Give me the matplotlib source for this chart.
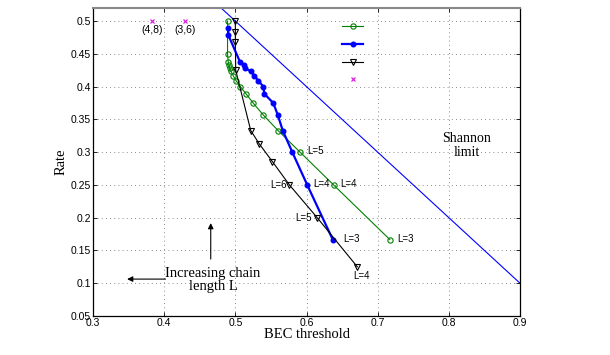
import numpy as np
import matplotlib
matplotlib.use("Agg")
import matplotlib.pyplot as plt

# -------------------------------------------------
# data
# -------------------------------------------------
green_eps = [0.489, 0.489, 0.490, 0.491, 0.492, 0.494, 0.497, 0.501, 0.507,
             0.515, 0.525, 0.539, 0.560, 0.591, 0.638, 0.717]
green_rate = [0.500, 0.450, 0.4375, 0.433, 0.4286, 0.4231, 0.4167, 0.409, 0.400,
              0.389, 0.375, 0.357, 0.333, 0.300, 0.250, 0.1667]

blue_eps = [0.490, 0.490, 0.5066, 0.5126, 0.5136, 0.5216, 0.5267, 0.5323, 0.5393,
            0.5407, 0.5533, 0.5595, 0.5666, 0.580, 0.601, 0.6368]
blue_rate = [0.490, 0.479, 0.4375, 0.433, 0.4286, 0.4231, 0.4167, 0.409, 0.400,
             0.389, 0.375, 0.357, 0.333, 0.300, 0.250, 0.1667]

black_eps = [0.500, 0.500, 0.500, 0.5005, 0.5216, 0.5337, 0.552, 0.576, 0.615, 0.6714]
black_rate = [0.500, 0.484, 0.4685, 0.425, 0.333, 0.3125, 0.2857, 0.250, 0.200, 0.125]

bp_eps = [0.3834, 0.4294]
bp_rate = [0.5, 0.5]
bp_labels = ["(4,8)", "(3,6)"]

shannon_eps = [0.40, 0.90]
shannon_rate = [0.60, 0.10]

# (point index, label)
green_L = [(13, "L=5"), (14, "L=4"), (15, "L=3")]
blue_L = [(14, "L=4"), (15, "L=3")]
black_L = [(7, "L=6"), (8, "L=5"), (9, "L=4")]

SERIF = ["Liberation Serif", "DejaVu Serif"]
SANS = ["Liberation Sans", "DejaVu Sans"]

plt.rcParams.update({
    'font.family': SANS,
    'font.size': 7.5,
    'xtick.direction': 'in',
    'ytick.direction': 'in',
})

fig = plt.figure(figsize=(6.10, 3.55), dpi=100)
ax = fig.add_axes([0.1525, 0.1099, 0.70, 0.8676])

l_sh, = ax.plot(shannon_eps, shannon_rate, color='#0000ff', lw=0.8)
l_g, = ax.plot(green_eps, green_rate, color='#008000', lw=0.8, marker='o',
               ms=3.8, mfc='none', mew=0.8)
l_b, = ax.plot(blue_eps, blue_rate, color='#0000ff', lw=1.6, marker='o',
               ms=3.3, mfc='#0000ff')
l_k, = ax.plot(black_eps, black_rate, color='black', lw=0.8, marker='v',
               ms=4.5, mfc='none', mew=0.8)
l_m, = ax.plot(bp_eps, bp_rate, ls='none', marker='x', color='#dd22dd',
               ms=3.5, mew=0.9)

for x, y, s in zip(bp_eps, bp_rate, bp_labels):
    ax.annotate(s, (x, y), xytext=(0, -4), textcoords='offset pixels',
                ha='center', va='top', fontsize=7.5)

# L labels, offsets in pixels
for i, s in green_L:
    ax.annotate(s, (green_eps[i], green_rate[i]), xytext=(7, 1),
                textcoords='offset pixels', ha='left', va='center', fontsize=7)
for i, s in blue_L:
    dx = 6 if s == "L=4" else 11
    ax.annotate(s, (blue_eps[i], blue_rate[i]), xytext=(dx, 1),
                textcoords='offset pixels', ha='left', va='center', fontsize=7)
for i, s in black_L:
    if s == "L=4":
        ax.annotate(s, (black_eps[i], black_rate[i]), xytext=(4, -4),
                    textcoords='offset pixels', ha='center', va='top', fontsize=7)
    else:
        dx = -3 if s == "L=6" else -5
        ax.annotate(s, (black_eps[i], black_rate[i]), xytext=(dx, 0),
                    textcoords='offset pixels', ha='right', va='center', fontsize=7)

ax.text(0.8255, 0.31, "Shannon\nlimit", ha='center', va='center',
        family=SERIF, fontsize=10, linespacing=1.1)
ax.text(0.4686, 0.1047, "Increasing chain\nlength L", ha='center', va='center',
        family=SERIF, fontsize=10.5, linespacing=1.0)
ax.annotate("", xy=(0.4654, 0.196), xytext=(0.4654, 0.1326),
            arrowprops=dict(arrowstyle='-|>', color='black', lw=0.8,
                            mutation_scale=8))
ax.annotate("", xy=(0.344, 0.1063), xytext=(0.4058, 0.1063),
            arrowprops=dict(arrowstyle='-|>', color='black', lw=0.8,
                            mutation_scale=8))

ax.legend([l_g, l_b, l_k, l_m], ["", "", "", ""], loc='upper left',
          bbox_to_anchor=(0.583, 0.954), frameon=False, borderpad=0,
          borderaxespad=0, handlelength=1.9, labelspacing=0.69, fontsize=8)

ax.set_xlim(0.3, 0.9)
ax.set_ylim(0.05, 0.52)
ax.set_xticks(np.arange(0.3, 0.91, 0.1))
ax.set_yticks(np.arange(0.05, 0.51, 0.05))
ax.set_xticklabels(["0.3", "0.4", "0.5", "0.6", "0.7", "0.8", "0.9"])
ax.set_yticklabels(["0.05", "0.1", "0.15", "0.2", "0.25", "0.3", "0.35",
                    "0.4", "0.45", "0.5"])
ax.tick_params(top=True, right=True, length=3, width=0.6, pad=1.5,
               labelsize=7.5)
ax.grid(True, ls=(0, (1, 4)), color='#666666', lw=0.6)
for sp in ax.spines.values():
    sp.set_linewidth(0.9)
ax.spines['top'].set_color('#888888')
ax.spines['top'].set_linewidth(1.5)

ax.set_xlabel("BEC threshold", family=SERIF, fontsize=10.5, labelpad=0)
ax.set_ylabel("Rate", family=SERIF, fontsize=10.5, labelpad=2)

fig.savefig("out.png", dpi=100)
